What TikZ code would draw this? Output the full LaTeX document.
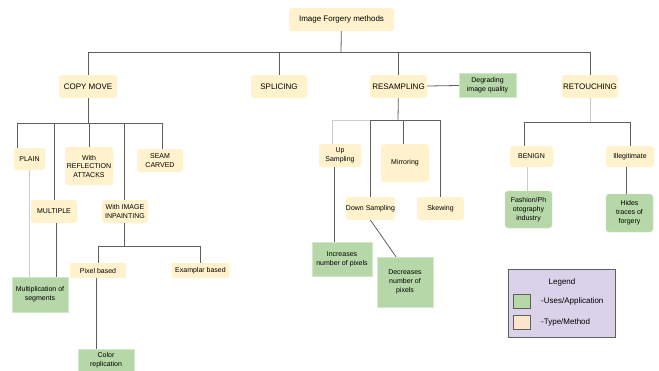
\documentclass[tikz,border=0pt]{standalone}
\usepackage{fontspec}
\setmainfont{Liberation Sans}
\usetikzlibrary{calc}
\definecolor{beige}{HTML}{FFF2CC}
\definecolor{leaf}{HTML}{B6D7A8}
\definecolor{leafedge}{HTML}{D3E8CB}
\definecolor{lav}{HTML}{D9D2E9}
\definecolor{peach}{HTML}{FCE5CD}
\definecolor{dline}{HTML}{5F5F5F}
\definecolor{lline}{HTML}{CCCCCC}
\tikzset{
  typebox/.style={fill=beige, rounded corners=3pt, inner sep=0pt, align=center, font=\fontsize{7}{8.5}\selectfont},
  bigbox/.style={typebox, font=\fontsize{8}{9.5}\selectfont},
  usebox/.style={fill=leaf, draw=leafedge, line width=0.4pt, inner sep=0pt, align=center, font=\fontsize{7}{9}\selectfont},
  userbox/.style={usebox, rounded corners=3pt},
  flatbox/.style={fill=beige, inner sep=0pt, align=center, font=\fontsize{7}{8.5}\selectfont},
  link/.style={draw=dline, line width=0.8pt},
  faint/.style={draw=lline, line width=0.8pt},
}
\begin{document}
\begin{tikzpicture}[x=1pt,y=-1pt]
\useasboundingbox (0,0) rectangle (659,370);
\clip (0,0) rectangle (659,370);
\fill[white] (0,0) rectangle (659,370);

% level 0 and 1
\node[bigbox, minimum width=105pt, minimum height=23pt] (root) at (341.5,19.5) {Image Forgery methods};
\node[bigbox, minimum width=58pt, minimum height=23pt] (copy) at (88,86.5) {COPY MOVE};
\node[bigbox, minimum width=56pt, minimum height=23pt] (splicing) at (279,86.5) {SPLICING};
\node[bigbox, minimum width=57pt, minimum height=23pt] (resampling) at (398.5,86.5) {RESAMPLING};
\node[usebox, minimum width=57pt, minimum height=24pt] (degrading) at (487.5,85) {Degrading\\image quality};
\node[bigbox, minimum width=56pt, minimum height=23pt] (retouching) at (590,86.5) {RETOUCHING};

% copy move children
\node[typebox, minimum width=31pt, minimum height=22pt] (plain) at (29.5,159) {PLAIN};
\node[typebox, minimum width=48pt, minimum height=38pt] (reflection) at (89,166) {With\\REFLECTION\\ATTACKS};
\node[typebox, minimum width=46pt, minimum height=23pt] (seam) at (160,160.5) {SEAM\\CARVED};
\node[typebox, minimum width=46pt, minimum height=23pt] (multiple) at (54,211.5) {MULTIPLE};
\node[typebox, minimum width=46pt, minimum height=23pt] (inpainting) at (125,211.5) {With IMAGE\\INPAINTING};
\node[usebox, minimum width=56pt, minimum height=35pt] (multseg) at (40,294.5) {Multiplication of\\segments};
\node[flatbox, minimum width=56pt, minimum height=15pt] (pixel) at (98,270.5) {Pixel based};
\node[flatbox, minimum width=57pt, minimum height=15pt] (exemplar) at (200.5,270.5) {Examplar based};
\node[usebox, minimum width=56pt, minimum height=22pt, font=\fontsize{7}{8.5}\selectfont] (color) at (106,360) {Color\\replication};

% resampling children
\node[typebox, minimum width=42pt, minimum height=23pt] (up) at (340,155.5) {Up\\Sampling};
\node[typebox, minimum width=48pt, minimum height=38pt] (mirroring) at (405,163) {Mirroring};
\node[typebox, minimum width=47pt, minimum height=23pt] (down) at (370.5,208.5) {Down Sampling};
\node[typebox, minimum width=47pt, minimum height=23pt] (skewing) at (440.5,208.5) {Skewing};
\node[usebox, minimum width=60pt, minimum height=34pt] (increases) at (342,259) {Increases\\number of pixels};
\node[usebox, minimum width=56pt, minimum height=50pt] (decreases) at (405,282) {Decreases\\number of\\pixels};

% retouching children
\node[typebox, minimum width=43pt, minimum height=21pt] (benign) at (531.5,156.5) {BENIGN};
\node[typebox, minimum width=48pt, minimum height=21pt] (illegit) at (630,156.5) {Illegitimate};
\node[userbox, minimum width=47pt, minimum height=37pt] (fashion) at (528.5,209.5) {Fashion/Ph\\otography\\industry};
\node[userbox, minimum width=47pt, minimum height=38pt] (hides) at (629.5,213) {Hides\\traces of\\forgery};

% buses
\coordinate (busA) at (341,52);
\coordinate (busB) at (88,123);
\coordinate (busC) at (124,246);
\coordinate (busD) at (398,120);
\coordinate (busE) at (590,122);

% root level
\draw[link] (root) -- (busA);
\draw[link] (busA) -| (copy);
\draw[link] (busA) -| (splicing);
\draw[link] (busA) -| (resampling);
\draw[link] (busA) -| (retouching);
\draw[link] (resampling) -- (degrading);

% copy move
\draw[link] (copy) -- (busB);
\draw[link] (busB) -| ([xshift=-12.5pt]plain.north);
\draw[link] (busB) -| (multiple);
\draw[link] (busB) -| (reflection);
\draw[link] (busB) -| ([xshift=-1pt]inpainting.north);
\draw[link] (busB) -| ([xshift=2pt]seam.north);
\draw[faint] (plain.south) -- (plain.south |- multseg.north);
\draw[link] ([xshift=2pt]multiple.south) -- ([xshift=2pt]multiple.south |- multseg.north);
\draw[link] ([xshift=-1pt]inpainting.south) -- (busC);
\draw[link] (busC) -| (pixel);
\draw[link] (busC) -| (exemplar);
\draw[link] ([xshift=-2pt]pixel.south) -- ([xshift=-2pt]pixel.south |- color.north);

% resampling
\draw[link] (resampling) -- (busD);
\draw[faint] (busD) -| ([xshift=-8pt]up.north);
\draw[link] (busD) -| (down);
\draw[link] (busD) -| ([xshift=-2pt]mirroring.north);
\draw[link] (busD) -| ([xshift=-0.5pt]skewing.north);
\draw[link] ([xshift=-6pt]up.south) -- ([xshift=-6pt]up.south |- increases.north);
\draw[link] (down.south) -- ([xshift=-9pt]decreases.north);

% retouching
\draw[faint] (retouching) -- (busE);
\draw[link] (busE) -| ([xshift=-7.5pt]benign.north);
\draw[link] (busE) -| (illegit);
\draw[faint] ([xshift=-4.5pt]benign.south) -- ([xshift=-4.5pt]benign.south |- fashion.north);
\draw[link] ([xshift=-4pt]illegit.south) -- ([xshift=-4pt]illegit.south |- hides.north);

% legend
\node[draw=dline, fill=lav, line width=0.8pt, minimum width=107pt, minimum height=68pt, inner sep=0pt] (legend) at (561.5,303) {};
\node[font=\fontsize{8}{9.5}\selectfont] (legtitle) at (562,282) {Legend};
\node[draw=dline, fill=leaf, line width=0.6pt, minimum width=17pt, minimum height=14pt, inner sep=0pt] (legG) at (521.5,301) {};
\node[draw=dline, fill=peach, line width=0.6pt, minimum width=17pt, minimum height=14pt, inner sep=0pt] (legP) at (521.5,322) {};
\node[anchor=west, inner sep=0pt, font=\fontsize{8}{9.5}\selectfont] (legGt) at (541,301) {-Uses/Application};
\node[anchor=west, inner sep=0pt, font=\fontsize{8}{9.5}\selectfont] (legPt) at (541,322) {-Type/Method};
\end{tikzpicture}
\end{document}
